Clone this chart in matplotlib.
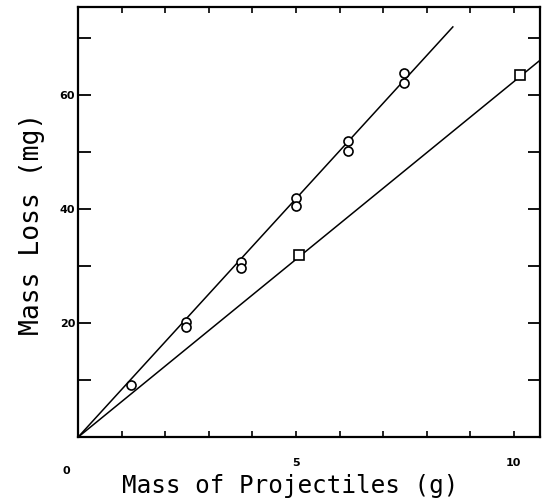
import matplotlib
matplotlib.use("Agg")
from matplotlib import pyplot as plt

# circles (upper series)
circle_x = [1.22, 2.48, 2.48, 3.74, 3.74, 5.0, 5.0, 6.19, 6.19, 7.48, 7.48]
circle_y = [9.2, 20.3, 19.4, 30.7, 29.7, 41.9, 40.5, 52.0, 50.3, 64.0, 62.2]
# squares (lower series)
square_x = [5.07, 10.14]
square_y = [31.9, 63.6]
# fitted lines
upper_line_x = [0, 8.6]
upper_line_y = [0, 72.0]
lower_line_x = [0, 10.64]
lower_line_y = [0, 66.4]

mono = "DejaVu Sans Mono"

fig = plt.figure(figsize=(5.55, 4.98), dpi=100)
ax = fig.add_axes([0.1405, 0.122, 0.8325, 0.864])

ax.plot(upper_line_x, upper_line_y, color="black", lw=1.1, zorder=2)
ax.plot(lower_line_x, lower_line_y, color="black", lw=1.1, zorder=2)
ax.plot(circle_x, circle_y, "o", ms=6.5, mfc="white", mec="black", mew=1.2, zorder=3)
ax.plot(square_x, square_y, "s", ms=6.5, mfc="white", mec="black", mew=1.2, zorder=3)

ax.set_xlim(0, 10.6)
ax.set_ylim(0, 75.5)

for s in ax.spines.values():
    s.set_linewidth(1.6)

ax.set_xticks(range(0, 11))
ax.set_xticklabels(["", "", "", "", "", "5", "", "", "", "", "10"])
ax.set_yticks(range(0, 75, 10))
ax.set_yticklabels(["", "", "20", "", "40", "", "60", ""])
ax.tick_params(axis="x", direction="in", length=4, width=1.2, top=True,
               pad=15, labelsize=8)
ax.tick_params(axis="y", direction="in", length=9, width=1.3, right=True,
               pad=2, labelsize=8)
for lab in ax.get_xticklabels() + ax.get_yticklabels():
    lab.set_fontweight("bold")

ax.text(-0.26, -6.0, "0", fontsize=8, fontweight="bold", ha="center", va="center")

fig.text(0.523, 0.024, "Mass of Projectiles (g)", family=mono, fontsize=17.5,
         ha="center", va="center")
fig.text(0.058, 0.55, "Mass Loss (mg)", family=mono, fontsize=19,
         ha="center", va="center", rotation=90)

fig.savefig("out.png", dpi=100)
